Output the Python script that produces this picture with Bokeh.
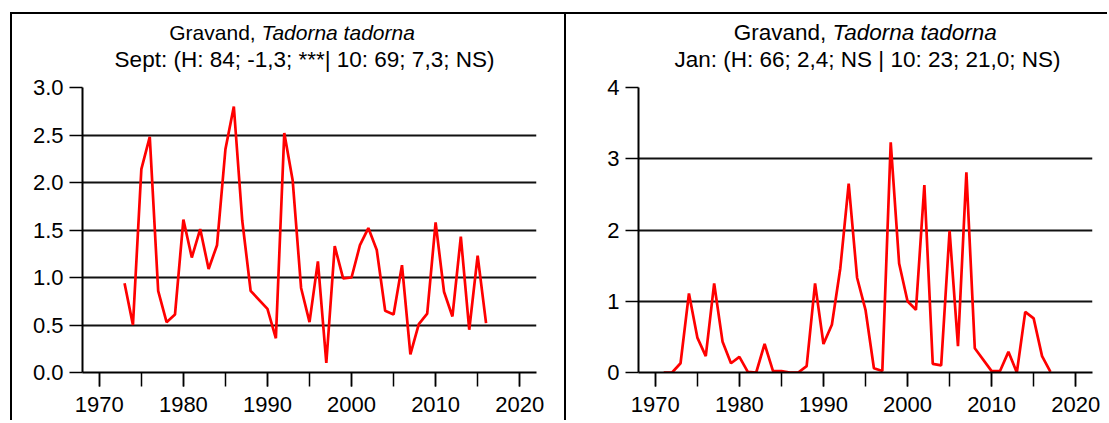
from bokeh.plotting import figure
from bokeh.models import Range1d, FixedTicker, Label
from bokeh.layouts import row
from bokeh.embed import file_html
from bokeh.resources import INLINE

FONT = "Liberation Sans"

# ---- data ----
sept_years = [1973, 1974, 1975, 1976, 1977, 1978, 1979, 1980, 1981, 1982, 1983, 1984,
              1985, 1986, 1987, 1988, 1990, 1991, 1992, 1993, 1994, 1995, 1996, 1997,
              1998, 1999, 2000, 2001, 2002, 2003, 2004, 2005, 2006, 2007, 2008, 2009,
              2010, 2011, 2012, 2013, 2014, 2015, 2016]
sept_values = [0.94, 0.50, 2.14, 2.48, 0.86, 0.53, 0.61, 1.61, 1.21, 1.51, 1.09, 1.34,
               2.35, 2.80, 1.60, 0.86, 0.67, 0.36, 2.52, 2.02, 0.89, 0.53, 1.17, 0.10,
               1.33, 0.99, 1.00, 1.34, 1.52, 1.29, 0.65, 0.61, 1.13, 0.19, 0.51, 0.62,
               1.58, 0.85, 0.59, 1.43, 0.45, 1.23, 0.52]

jan_years = [1971, 1972, 1973, 1974, 1975, 1976, 1977, 1978, 1979, 1980, 1981, 1982,
             1983, 1984, 1985, 1986, 1987, 1988, 1989, 1990, 1991, 1992, 1993, 1994,
             1995, 1996, 1997, 1998, 1999, 2000, 2001, 2002, 2003, 2004, 2005, 2006,
             2007, 2008, 2010, 2011, 2012, 2013, 2014, 2015, 2016, 2017]
jan_values = [0.0, 0.0, 0.13, 1.11, 0.49, 0.23, 1.25, 0.43, 0.13, 0.22, 0.01, 0.0,
              0.40, 0.02, 0.02, 0.0, 0.0, 0.09, 1.25, 0.40, 0.67, 1.46, 2.65, 1.33,
              0.88, 0.06, 0.02, 3.23, 1.53, 1.00, 0.88, 2.63, 0.12, 0.10, 1.99, 0.37,
              2.81, 0.34, 0.02, 0.02, 0.29, 0.0, 0.85, 0.76, 0.23, 0.01]

x_label_ticks = [1970, 1980, 1990, 2000, 2010, 2020]
x_all_ticks = [1970, 1975, 1980, 1985, 1990, 1995, 2000, 2005, 2010, 2015, 2020]
sept_yticks = [0.0, 0.5, 1.0, 1.5, 2.0, 2.5, 3.0]
jan_yticks = [0, 1, 2, 3, 4]

title_main = "Gravand, "
title_species = "Tadorna tadorna"
sept_sub = "Sept: (H: 84; -1,3; ***| 10: 69; 7,3; NS)"
jan_sub = "Jan: (H: 66; 2,4; NS | 10: 23; 21,0; NS)"

H = 420
LINE = "linear-gradient(#000000, #000000)"


def make_panel(xs, ys, yticks, ymax, yfmt, sub, width, mb_left, mb_right, mb_top,
               background, t1_size, split_off, sub_off):
    p = figure(width=width, height=H, output_backend="svg", toolbar_location=None,
               x_range=Range1d(1968, 2022), y_range=Range1d(0, ymax),
               min_border_left=mb_left, min_border_right=mb_right,
               min_border_top=mb_top, min_border_bottom=48)
    p.outline_line_color = None
    p.background_fill_color = "white"
    p.border_fill_color = None
    p.styles = {"background": background}

    p.line(xs, ys, line_color="#ff0000", line_width=2.7)

    for ax in (p.xaxis[0], p.yaxis[0]):
        ax.axis_line_color = "black"
        ax.axis_line_width = 2
        ax.major_tick_line_color = "black"
        ax.major_tick_line_width = 1.5
        ax.major_tick_in = 0
        ax.minor_tick_in = 0
        ax.major_label_text_font = FONT
        ax.major_label_text_font_size = "22px"
        ax.major_label_text_color = "black"
    p.xaxis.ticker = FixedTicker(ticks=x_label_ticks, minor_ticks=x_all_ticks)
    p.xaxis.major_tick_out = 14
    p.xaxis.minor_tick_out = 14
    p.xaxis.minor_tick_line_color = "black"
    p.xaxis.minor_tick_line_width = 1.5
    p.xaxis.major_label_standoff = 10

    p.yaxis.ticker = FixedTicker(ticks=yticks, minor_ticks=[])
    p.yaxis.major_tick_out = 13
    p.yaxis.minor_tick_line_color = None
    p.yaxis.major_label_standoff = 6
    p.yaxis.major_label_overrides = {t: (yfmt % t) for t in yticks}

    p.xgrid.grid_line_color = None
    p.ygrid.grid_line_color = "#111111"
    p.ygrid.grid_line_width = 1.8
    p.ygrid.ticker = FixedTicker(ticks=yticks)

    # two-line title with italic species name, placed in the top side panel
    fw = width - mb_left - mb_right
    cx = mb_left + fw / 2.0
    split = cx + split_off
    p.add_layout(Label(x=split, y=31.5, x_units="canvas", y_units="canvas",
                       text=title_main, text_align="right", text_baseline="alphabetic",
                       text_font=FONT, text_font_size=t1_size, text_color="black"), "above")
    p.add_layout(Label(x=split, y=31.5, x_units="canvas", y_units="canvas",
                       text=title_species, text_align="left", text_baseline="alphabetic",
                       text_font=FONT, text_font_size=t1_size, text_font_style="italic",
                       text_color="black"), "above")
    p.add_layout(Label(x=cx + sub_off, y=58.5, x_units="canvas", y_units="canvas",
                       text=sub, text_align="center", text_baseline="alphabetic",
                       text_font=FONT, text_font_size="22.5px", text_color="black"), "above")
    return p


bg_left = (f"{LINE} 10px 12px / 2px 100% no-repeat, "
           f"{LINE} 10px 12px / 100% 2px no-repeat, "
           f"{LINE} 564px 12px / 2px 100% no-repeat, #ffffff")
bg_right = f"{LINE} 0px 12px / 100% 2px no-repeat, #ffffff"

p1 = make_panel(sept_years, sept_values, sept_yticks, 3.0, "%.1f", sept_sub,
                566, 82, 30, 87, bg_left, "21px", -48, -5)
p2 = make_panel(jan_years, jan_values, jan_yticks, 4.0, "%d", jan_sub,
                541, 72, 15, 85, bg_right, "22.5px", -33, 2)

layout = row(p1, p2)
open("out.html", "w").write(file_html(layout, INLINE))
